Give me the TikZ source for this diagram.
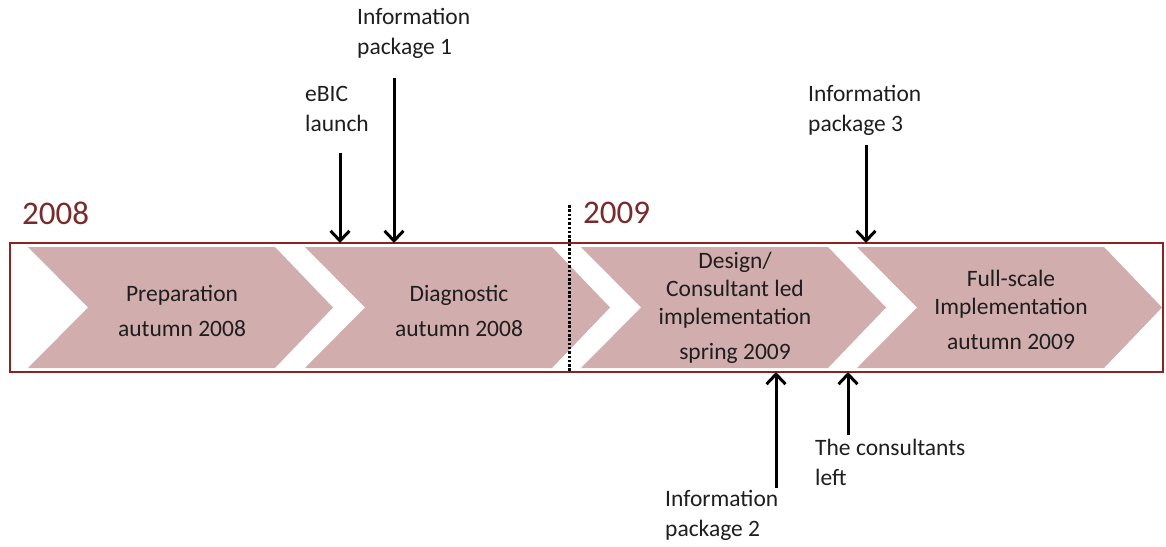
\documentclass[tikz,border=0pt]{standalone}
\usepackage{fontspec}
\setmainfont{Carlito}
\usetikzlibrary{arrows.meta}
\definecolor{chev}{HTML}{D1ADAD}
\definecolor{framec}{HTML}{8B2323}
\definecolor{yearc}{HTML}{7A2A2A}
\definecolor{txt}{HTML}{1E1E1E}
\begin{document}
\begin{tikzpicture}[x=1pt,y=-1pt,
  lbl/.style={font=\fontsize{23.5}{30}\selectfont, text=txt, inner sep=0pt, align=left, anchor=west},
  ctr/.style={font=\fontsize{23.5}{28}\selectfont, text=txt, inner sep=0pt, align=center},
  yr/.style={font=\fontsize{33}{40}\selectfont, text=yearc, inner sep=0pt, anchor=west},
  arr/.style={line width=3pt, -{Straight Barb[length=10pt,width=19pt]}},
  chevfill/.style={fill=chev}]
\useasboundingbox (0,0) rectangle (1166,546);
% chevrons
\foreach \x in {28,305,581,857}{
  \fill[chevfill] (\x,247) -- ++(247,0) -- ++(58,60.5) -- ++(-58,60.5) -- ++(-247,0) -- ++(60,-60.5) -- cycle;
}
% frame
\draw[framec, line width=2.2pt] (10,243) rectangle (1163,372);
% dotted separator
\coordinate (dtop) at (569,205);
\coordinate (dbot) at (569,372);
\draw[line width=3pt, dash pattern=on 2.5pt off 1.8pt] (dtop) -- (dbot);
% years
\node[yr] (y2008) at (22,213) {2008};
\node[yr] (y2009) at (583,213) {2009};
% phase texts
\node[ctr] (prep) at (182,310.5) {Preparation\\[7pt]autumn 2008};
\node[ctr] (diag) at (459,310.5) {Diagnostic\\[7pt]autumn 2008};
\node[ctr] (design) at (735,307.5) {Design/\\Consultant led\\implementation\\[7pt]spring 2009};
\node[ctr] (full) at (1011,309.5) {Full-scale\\Implementation\\[7pt]autumn 2009};
% event labels
\node[lbl] (ip1) at (357,33) {Information\\package 1};
\node[lbl] (ebic) at (305,108.5) {eBIC\\launch};
\node[lbl] (ip3) at (808,110.5) {Information\\package 3};
\node[lbl] (cons) at (815,462.5) {The consultants\\left};
\node[lbl] (ip2) at (665,515.5) {Information\\package 2};
% arrows
\coordinate (t1) at (340,153); \coordinate (h1) at (340,243);
\coordinate (t2) at (394,78);  \coordinate (h2) at (394,243);
\coordinate (t3) at (866,145); \coordinate (h3) at (866,243);
\coordinate (t4) at (776,488); \coordinate (h4) at (776,372);
\coordinate (t5) at (848,435); \coordinate (h5) at (848,372);
\draw[arr] (t1) -- (h1);
\draw[arr] (t2) -- (h2);
\draw[arr] (t3) -- (h3);
\draw[arr] (t4) -- (h4);
\draw[arr] (t5) -- (h5);
\end{tikzpicture}
\end{document}
